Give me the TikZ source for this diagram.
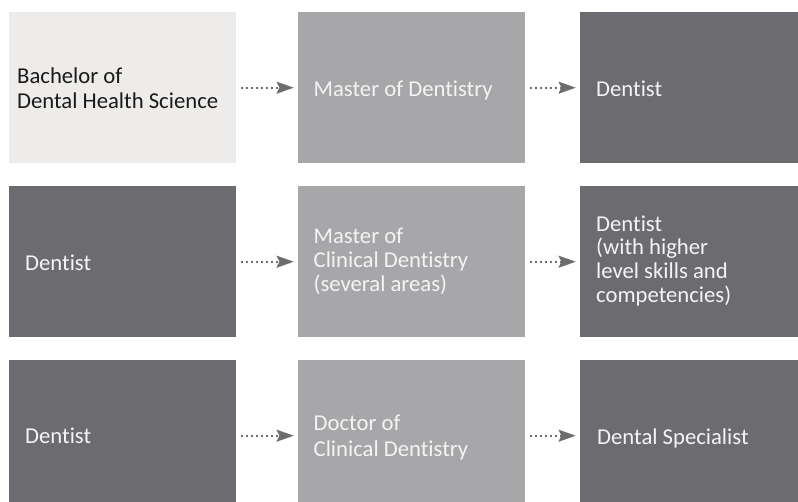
\documentclass[tikz,border=0pt]{standalone}
\usepackage{fontspec}
\setmainfont[Ligatures={NoCommon}]{Carlito}
\usetikzlibrary{arrows.meta}
\definecolor{lightbox}{HTML}{EDECEA}
\definecolor{midbox}{HTML}{A7A7AA}
\definecolor{darkbox}{HTML}{6C6C70}
\definecolor{arrowgray}{HTML}{6D6D70}
\definecolor{darktext}{HTML}{1A1A1A}
\definecolor{lighttext}{HTML}{F4F4F4}
\newlength\refwidth
\AtBeginDocument{%
  \settowidth\refwidth{\fontsize{10pt}{12pt}\selectfont Dental Health Science}%
  \pgfmathparse{10*201/\refwidth}%
  \xdef\fsz{\pgfmathresult}%
}
\begin{document}
\begin{tikzpicture}[x=1pt,y=-1pt]
\tikzset{
  boxbase/.style={draw=none,inner sep=0pt,minimum width=227pt,minimum height=151pt,anchor=north west},
  lightstyle/.style={boxbase,fill=lightbox},
  midstyle/.style={boxbase,fill=midbox},
  darkstyle/.style={boxbase,fill=darkbox},
  lbl/.style={inner sep=0pt,anchor=base west,font=\fontsize{\fsz pt}{\fsz pt}\selectfont},
  lbldark/.style={lbl,text=darktext},
  lbllight/.style={lbl,text=lighttext},
  flow/.style={draw=arrowgray,line width=2pt,dash pattern=on 2pt off 3pt,
    -{Stealth[length=17pt,width=12pt,inset=3pt,line width=0.01pt,fill=arrowgray]},
    shorten <=5pt,shorten >=4.5pt}
}
\clip (0,0) rectangle (798,501);
% boxes
\node[lightstyle] (b11) at (9,12) {};
\node[midstyle]   (b12) at (298,12) {};
\node[darkstyle]  (b13) at (580,12) {};
\node[darkstyle]  (b21) at (9,186) {};
\node[midstyle]   (b22) at (298,186) {};
\node[darkstyle]  (b23) at (580,186) {};
\node[darkstyle]  (b31) at (9,360) {};
\node[midstyle]   (b32) at (298,360) {};
\node[darkstyle]  (b33) at (580,360) {};
% texts row 1
\node[lbldark] (t11a) at (17,83.5) {Bachelor of};
\node[lbldark] (t11b) at (17,108) {Dental Health Science};
\node[lbllight] (t12) at (313.5,96.5) {Master of Dentistry};
\node[lbllight] (t13) at (596,96.5) {Dentist};
% texts row 2
\node[lbllight] (t21) at (25,270.7) {Dentist};
\node[lbllight] (t22a) at (313.5,243.5) {Master of};
\node[lbllight] (t22b) at (313.5,267.7) {Clinical Dentistry};
\node[lbllight] (t22c) at (313.5,291.8) {(several areas)};
\node[lbllight] (t23a) at (596,231) {Dentist};
\node[lbllight] (t23b) at (596,254.8) {(with higher};
\node[lbllight] (t23c) at (596,278.6) {level skills and};
\node[lbllight] (t23d) at (596,302.4) {competencies)};
% texts row 3
\node[lbllight] (t31) at (25,443.3) {Dentist};
\node[lbllight] (t32a) at (313.5,430.7) {Doctor of};
\node[lbllight] (t32b) at (313.5,456) {Clinical Dentistry};
\node[lbllight] (t33) at (597,444) {Dental Specialist};
% arrows
\draw[flow] (b11.east) -- (b12.west);
\draw[flow] (b12.east) -- (b13.west);
\draw[flow] (b21.east) -- (b22.west);
\draw[flow] (b22.east) -- (b23.west);
\draw[flow] (b31.east) -- (b32.west);
\draw[flow] (b32.east) -- (b33.west);
\end{tikzpicture}
\end{document}
